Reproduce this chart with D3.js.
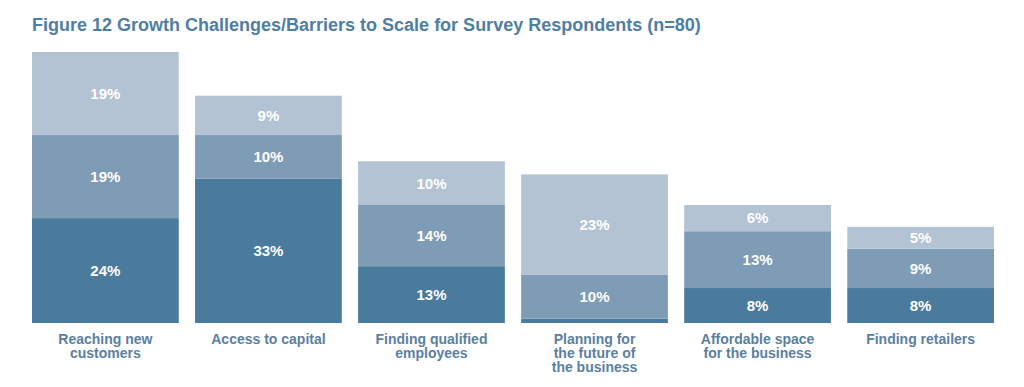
<!DOCTYPE html>
<html>
<head>
<meta charset="utf-8">
<script src="https://cdn.jsdelivr.net/npm/d3@7"></script>
<style>
  html, body { margin: 0; padding: 0; background: #ffffff; }
  svg { display: block; }
</style>
</head>
<body>
<svg id="chart" width="1024" height="387"></svg>
<script>
const title = "Figure 12 Growth Challenges/Barriers to Scale for Survey Respondents (n=80)";
const categories = ["Reaching new customers", "Access to capital", "Finding qualified employees",
  "Planning for the future of the business", "Affordable space for the business", "Finding retailers"];
const categoryLines = [
  ["Reaching new", "customers"],
  ["Access to capital"],
  ["Finding qualified", "employees"],
  ["Planning for", "the future of", "the business"],
  ["Affordable space", "for the business"],
  ["Finding retailers"]
];
const seriesNames = ["bottom", "middle", "top"];
const bottomValues = [24, 33, 13, 1, 8, 8];
const middleValues = [19, 10, 14, 10, 13, 9];
const topValues = [19, 9, 10, 23, 6, 5];
const seriesColors = ["#4a7b9d", "#7e9cb6", "#b3c3d3"];

const svg = d3.select("#chart");

svg.append("text")
  .attr("x", 32).attr("y", 31)
  .attr("font-family", "Liberation Sans, Arial, sans-serif")
  .attr("font-weight", "bold")
  .attr("font-size", 18)
  .attr("fill", "#4f7ea3")
  .text(title);

const table = categories.map((c, i) => ({
  category: c, bottom: bottomValues[i], middle: middleValues[i], top: topValues[i]
}));
const stacked = d3.stack().keys(seriesNames)(table);

const x = d3.scaleBand().domain(categories).range([32, 994]).paddingInner(0.1).paddingOuter(0);
const y = d3.scaleLinear().domain([0, 62]).range([323, 52]);
const color = d3.scaleOrdinal().domain(seriesNames).range(seriesColors);

const layers = svg.append("g").selectAll("g").data(stacked).join("g")
  .attr("fill", d => color(d.key));

layers.selectAll("rect").data(d => d).join("rect")
  .attr("x", d => x(d.data.category))
  .attr("width", x.bandwidth())
  .attr("y", d => y(d[1]))
  .attr("height", d => y(d[0]) - y(d[1]));

const labels = svg.append("g");
stacked.forEach(layer => {
  layer.forEach(d => {
    const v = d[1] - d[0];
    if (v < 3) return;
    labels.append("text")
      .attr("x", x(d.data.category) + x.bandwidth() / 2)
      .attr("y", (y(d[0]) + y(d[1])) / 2)
      .attr("dy", "0.36em")
      .attr("text-anchor", "middle")
      .attr("font-family", "Liberation Sans, Arial, sans-serif")
      .attr("font-weight", "bold")
      .attr("font-size", 15)
      .attr("fill", "#ffffff")
      .text(v + "%");
  });
});

const axis = d3.axisBottom(x).tickSize(0).tickFormat("");
const axisG = svg.append("g").attr("transform", "translate(0,323)").call(axis);
axisG.select(".domain").remove();

axisG.selectAll(".tick").each(function(c, i) {
  const t = d3.select(this).append("text")
    .attr("text-anchor", "middle")
    .attr("font-family", "Liberation Sans, Arial, sans-serif")
    .attr("font-weight", "bold")
    .attr("font-size", 14)
    .attr("fill", "#5b7f9f");
  categoryLines[i].forEach((line, j) => {
    t.append("tspan").attr("x", 0).attr("y", 21 + j * 14).text(line);
  });
});
</script>
</body>
</html>
